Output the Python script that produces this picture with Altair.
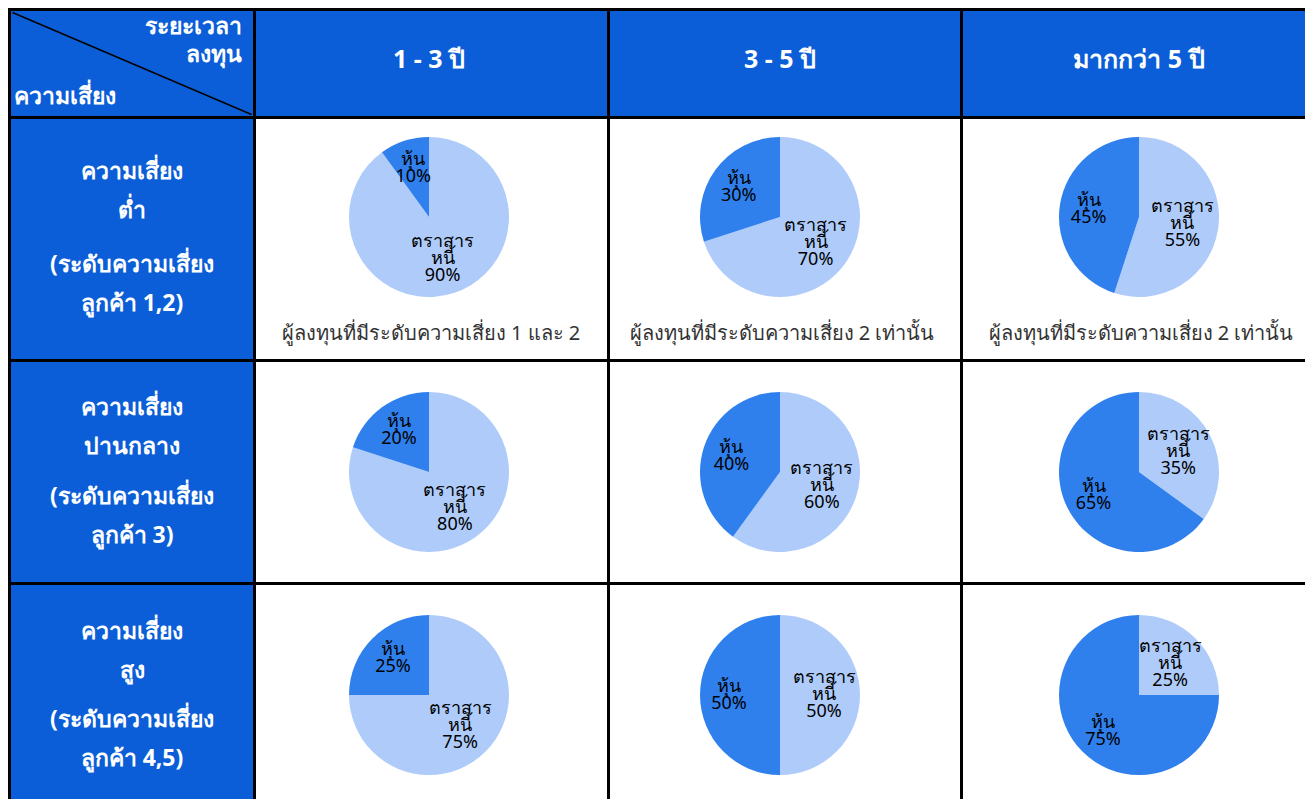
import altair as alt
import pandas as pd

# ---------------- data ----------------
periods = ["1 - 3 ปี", "3 - 5 ปี", "มากกว่า 5 ปี"]
risk_titles = ["ความเสี่ยง\nต่ำ", "ความเสี่ยง\nปานกลาง", "ความเสี่ยง\nสูง"]
risk_levels = ["(ระดับความเสี่ยง\nลูกค้า 1,2)", "(ระดับความเสี่ยง\nลูกค้า 3)", "(ระดับความเสี่ยง\nลูกค้า 4,5)"]
stock_pct = [[10, 30, 45], [20, 40, 65], [25, 50, 75]]
bond_pct = [[90, 70, 55], [80, 60, 35], [75, 50, 25]]
notes = [
    "ผู้ลงทุนที่มีระดับความเสี่ยง 1 และ 2",
    "ผู้ลงทุนที่มีระดับความเสี่ยง 2 เท่านั้น",
    "ผู้ลงทุนที่มีระดับความเสี่ยง 2 เท่านั้น",
]
stock_name = "หุ้น"
bond_name = "ตราสาร\nหนี้"
corner_top = "ระยะเวลา\nลงทุน"
corner_bottom = "ความเสี่ยง"

# ---------------- style / layout ----------------
HEADER_BG = "#0b5ed7"
STOCK = "#2f80ed"
BOND = "#aecbfa"
BOND_ALT = "#8ab4f8"
FONT = "Noto Sans"
GAP = 3  # border thickness (black background showing between cells)

col_w = [242, 351, 350, 342]
row_h = [105, 240, 220, 214]
pie_cx = [173, 170, 176]
pie_cy = [98, 110, 110]
row_title_y = [53, 46, 47]
row_level_y = [146, 135, 135]
LABEL_LH = 17

recs = []
for r in range(3):
    for c in range(3):
        recs.append(dict(row=r, col=c, series="bond", ord=0, value=bond_pct[r][c],
                         label=f"{bond_name}\n{bond_pct[r][c]}%"))
        recs.append(dict(row=r, col=c, series="stock", ord=1, value=stock_pct[r][c],
                         label=f"{stock_name}\n{stock_pct[r][c]}%"))
slices = pd.DataFrame(recs)
one = pd.DataFrame({"k": [0]})


def view(fill):
    return alt.ViewBackground(fill=fill, stroke="transparent", strokeWidth=0)


def corner_panel():
    w, h = col_w[0], row_h[0]
    diag = alt.Chart(one).mark_rule(color="black", strokeWidth=1.5).encode(
        x=alt.value(1.5), x2=alt.value(w - 1.5), y=alt.value(1.5), y2=alt.value(h - 1.5))
    top = alt.Chart(one).mark_text(
        align="right", baseline="middle", lineBreak="\n", lineHeight=28,
        fontSize=23, fontWeight="bold", font=FONT, color="white"
    ).encode(x=alt.value(w - 11), y=alt.value(16), text=alt.value(corner_top))
    bottom = alt.Chart(one).mark_text(
        align="left", baseline="middle",
        fontSize=23, fontWeight="bold", font=FONT, color="white"
    ).encode(x=alt.value(3), y=alt.value(86), text=alt.value(corner_bottom))
    return alt.layer(diag, top, bottom).properties(width=w, height=h, view=view(HEADER_BG))


def header_panel(c):
    w, h = col_w[c + 1], row_h[0]
    return alt.Chart(one).mark_text(
        fontSize=25, fontWeight="bold", font=FONT, color="white"
    ).encode(
        x=alt.value(pie_cx[c]), y=alt.value(49), text=alt.value(periods[c])
    ).properties(width=w, height=h, view=view(HEADER_BG))


def row_header_panel(r):
    w, h = col_w[0], row_h[r + 1]
    common = dict(fontSize=23, fontWeight="bold", font=FONT, color="white",
                  lineBreak="\n", lineHeight=39, baseline="middle")
    a = alt.Chart(one).mark_text(**common).encode(
        x=alt.value(w / 2), y=alt.value(row_title_y[r]), text=alt.value(risk_titles[r]))
    b = alt.Chart(one).mark_text(**common).encode(
        x=alt.value(w / 2), y=alt.value(row_level_y[r]), text=alt.value(risk_levels[r]))
    return alt.layer(a, b).properties(width=w, height=h, view=view(HEADER_BG))


def pie_panel(r, c):
    w, h = col_w[c + 1], row_h[r + 1]
    cx = pie_cx[c]
    cy = pie_cy[r]
    bond_color = BOND_ALT if (r, c) == (2, 2) else BOND
    tscale = alt.Scale(domain=[0, 100])
    base = alt.Chart(slices).transform_filter(
        f"datum.row == {r} && datum.col == {c}"
    ).transform_window(
        cum="sum(value)", sort=[alt.SortField("ord")], frame=[None, 0]
    ).transform_calculate(
        start="datum.cum - datum.value", mid="datum.cum - datum.value / 2"
    )
    arc = base.mark_arc(outerRadius=80).encode(
        x=alt.value(cx), y=alt.value(cy),
        theta=alt.Theta("start:Q", scale=tscale),
        theta2=alt.Theta2("cum:Q"),
        color=alt.Color("series:N", scale=alt.Scale(domain=["bond", "stock"],
                                                    range=[bond_color, STOCK]), legend=None),
    )
    tcommon = dict(lineBreak="\n", lineHeight=LABEL_LH, fontSize=18, font=FONT, color="black",
                   baseline="middle")
    t_stock = base.transform_filter("datum.series == 'stock'").mark_text(
        radius=51, dy=-LABEL_LH / 2, **tcommon).encode(
        x=alt.value(cx), y=alt.value(cy),
        theta=alt.Theta("mid:Q", scale=tscale), text="label:N")
    t_bond = base.transform_filter("datum.series == 'bond'").mark_text(
        radius=44, dy=-LABEL_LH, **tcommon).encode(
        x=alt.value(cx), y=alt.value(cy),
        theta=alt.Theta("mid:Q", scale=tscale), text="label:N")
    layers = [arc, t_stock, t_bond]
    if r == 0:
        note = alt.Chart(one).mark_text(
            fontSize=20, font=FONT, color="#333333"
        ).encode(x=alt.value(cx + 2), y=alt.value(215), text=alt.value(notes[c]))
        layers.append(note)
    return alt.layer(*layers).properties(width=w, height=h, view=view("white"))


rows = [alt.hconcat(corner_panel(), *[header_panel(c) for c in range(3)], spacing=GAP)]
for r in range(3):
    rows.append(alt.hconcat(row_header_panel(r), *[pie_panel(r, c) for c in range(3)], spacing=GAP))

chart = alt.vconcat(*rows, spacing=GAP).properties(
    background="black",
    padding={"left": GAP, "top": GAP, "right": 0, "bottom": 0},
).resolve_scale(
    theta="independent", color="independent"
).configure_view(stroke="transparent", strokeWidth=0)

chart.save("out.html", embed_options={"renderer": "svg", "actions": False})
